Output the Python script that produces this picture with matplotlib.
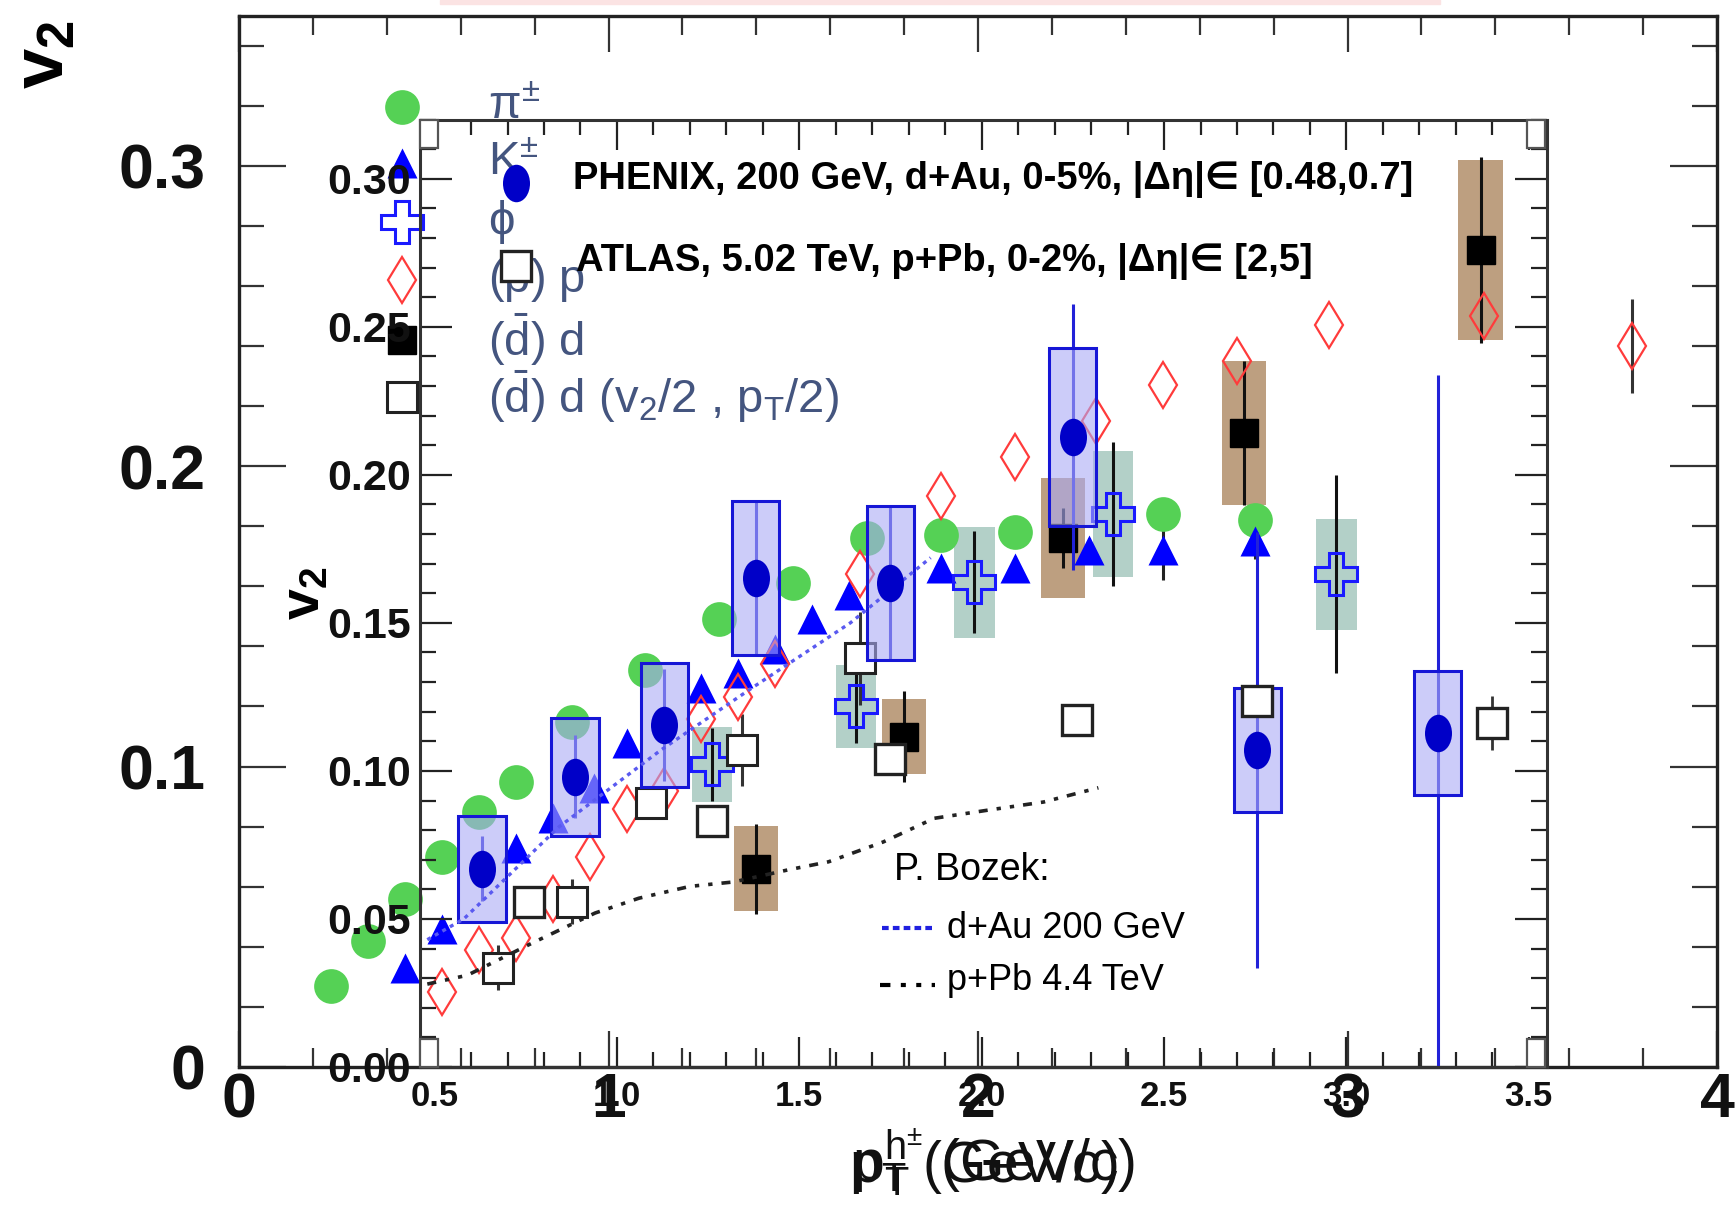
import numpy as np
import matplotlib
matplotlib.use("Agg")
import matplotlib.pyplot as plt
from matplotlib.patches import Rectangle
from matplotlib.path import Path
from matplotlib.transforms import Affine2D
from matplotlib.ticker import MultipleLocator

plt.rcParams['font.family'] = ['Liberation Sans', 'DejaVu Sans']
plt.rcParams['mathtext.fontset'] = 'custom'
plt.rcParams['mathtext.rm'] = 'Liberation Sans'
plt.rcParams['mathtext.it'] = 'Liberation Sans:italic'
plt.rcParams['mathtext.bf'] = 'Liberation Sans:bold'
NARROW = ['Liberation Sans', 'DejaVu Sans']

# ---- outer plot: identified hadrons ----
pi_pt = [0.25, 0.35, 0.45, 0.55, 0.65, 0.75, 0.90, 1.10, 1.30, 1.50, 1.70, 1.90, 2.10, 2.50, 2.75]
pi_v2 = [0.027, 0.042, 0.056, 0.070, 0.085, 0.095, 0.115, 0.132, 0.149, 0.161, 0.176, 0.177, 0.178, 0.184, 0.182]

k_pt = [0.45, 0.55, 0.75, 0.85, 0.96, 1.05, 1.25, 1.35, 1.45, 1.55, 1.65, 1.90, 2.10, 2.30, 2.50, 2.75]
k_v2 = [0.033, 0.046, 0.073, 0.083, 0.093, 0.108, 0.126, 0.131, 0.139, 0.149, 0.157, 0.166, 0.166, 0.172, 0.172, 0.175]
k_err = [0, 0, 0, 0, 0, 0, 0, 0, 0, 0, 0, 0, 0.004, 0.004, 0.010, 0.006]

phi_pt = [1.28, 1.67, 1.99, 2.365, 2.97]
phi_v2 = [0.1007, 0.120, 0.1613, 0.184, 0.164]
phi_stat = [0.012, 0.012, 0.017, 0.024, 0.033]
phi_sys = [0.0125, 0.0137, 0.0185, 0.021, 0.0185]

p_pt = [0.55, 0.65, 0.75, 0.85, 0.95, 1.05, 1.15, 1.25, 1.35, 1.45, 1.68, 1.90, 2.10, 2.32, 2.50, 2.70, 2.95, 3.37, 3.77]
p_v2 = [0.025, 0.039, 0.043, 0.056, 0.070, 0.086, 0.092, 0.116, 0.123, 0.134, 0.164, 0.190, 0.203, 0.215, 0.227, 0.235, 0.247, 0.250, 0.240]
p_err = [0] * 18 + [0.0155]

d_pt = [1.40, 1.80, 2.23, 2.72, 3.36]
d_v2 = [0.066, 0.110, 0.176, 0.211, 0.272]
d_stat = [0.015, 0.015, 0.010, 0.024, 0.031]
d_sys = [0.0142, 0.0125, 0.020, 0.024, 0.030]

dh_pt = [0.70, 0.90, 1.115, 1.36, 1.68]
dh_v2 = [0.033, 0.055, 0.088, 0.1055, 0.136]
dh_err = [0.0075, 0.0075, 0.005, 0.012, 0.0155]

# ---- inner plot: unidentified hadrons ----
ph_pt = [0.63, 0.885, 1.13, 1.38, 1.75, 2.25, 2.755, 3.25]
ph_v2 = [0.0669, 0.098, 0.1155, 0.1652, 0.1635, 0.2128, 0.1071, 0.1128]
ph_stat = [0.011, 0.014, 0.019, 0.026, 0.026, 0.045, 0.0735, 0.121]
ph_sys = [0.018, 0.020, 0.021, 0.026, 0.026, 0.030, 0.021, 0.021]

at_pt = [0.76, 1.26, 1.75, 2.26, 2.755, 3.40]
at_v2 = [0.0557, 0.0831, 0.104, 0.1172, 0.1236, 0.1162]
at_err = [0, 0, 0, 0, 0, 0.009]

bz_dau_pt = [0.48, 0.58, 0.84, 1.12, 1.37, 1.64, 1.86]
bz_dau_v2 = [0.043, 0.050, 0.081, 0.107, 0.128, 0.150, 0.172]
bz_ppb_pt = [0.48, 0.59, 0.77, 0.94, 1.06, 1.20, 1.32, 1.47, 1.58, 1.73, 1.87, 2.02, 2.17, 2.32]
bz_ppb_v2 = [0.028, 0.031, 0.042, 0.052, 0.057, 0.061, 0.0625, 0.0666, 0.0693, 0.076, 0.084, 0.0868, 0.0895, 0.0943]

GREEN = '#55d155'
TAN = '#bd9f80'
TEAL = '#b3d0c8'
ell = Path.unit_circle().transformed(Affine2D().scale(0.72, 1.0))

W, H = 1736, 1224
def fx(px):
    return px / W
def fy(py):
    return 1 - py / H

fig = plt.figure(figsize=(17.36, 12.24), dpi=100)
fig.patches.append(Rectangle((fx(440), fy(4)), fx(1000), 4 / H, transform=fig.transFigure,
                             color='#fbe3e3', zorder=0))

ax = fig.add_axes([fx(239), fy(1067), fx(1717 - 239), (1067 - 15.5) / H])
axi = fig.add_axes([fx(420), fy(1067), fx(1547 - 420), (1067 - 119.5) / H])
axi.set_facecolor('none')

# ---------------- outer axes ----------------
ax.set_xlim(0, 4)
ax.set_ylim(0, 0.35)
ax.xaxis.set_minor_locator(MultipleLocator(0.2))
ax.yaxis.set_minor_locator(MultipleLocator(0.02))
ax.set_xticks([0, 1, 2, 3, 4], labels=['0', '1', '2', '3', '4'], fontsize=45, fontweight='bold')
ax.set_yticks([0, 0.1, 0.2, 0.3], labels=['0', '0.1', '0.2', '0.3'], fontsize=45, fontweight='bold')
ax.tick_params(which='both', direction='in', top=True, right=True, width=1.6, color='#333333',
               labelcolor='#111111')
ax.tick_params(axis='x', which='major', length=26, pad=3)
ax.tick_params(axis='x', which='minor', length=14)
ax.tick_params(axis='y', which='major', length=34, pad=24)
ax.tick_params(axis='y', which='minor', length=18)
for s in ax.spines.values():
    s.set_linewidth(2.4)
    s.set_color('#222222')

for x, y, h in zip(phi_pt, phi_v2, phi_sys):
    ax.add_patch(Rectangle((x - 0.055, y - h), 0.11, 2 * h, facecolor=TEAL, edgecolor='none', zorder=1))
for x, y, h in zip(d_pt, d_v2, d_sys):
    ax.add_patch(Rectangle((x - 0.06, y - h), 0.12, 2 * h, facecolor=TAN, edgecolor='none', zorder=1))

ax.errorbar(phi_pt, phi_v2, yerr=phi_stat, fmt='none', ecolor='#111111', elinewidth=2.2, capsize=0, zorder=2)
ax.errorbar(d_pt, d_v2, yerr=d_stat, fmt='none', ecolor='#111111', elinewidth=2.2, capsize=0, zorder=2)
ax.errorbar(p_pt, p_v2, yerr=p_err, fmt='none', ecolor='#333333', elinewidth=2.2, capsize=0, zorder=2)
ax.errorbar(k_pt, k_v2, yerr=k_err, fmt='none', ecolor='#222222', elinewidth=2.2, capsize=0, zorder=2)
ax.errorbar(dh_pt, dh_v2, yerr=dh_err, fmt='none', ecolor='#333333', elinewidth=2.2, capsize=0, zorder=2)

ax.plot(pi_pt, pi_v2, 'o', ms=25, color=GREEN, mec='none', zorder=3)
ax.plot(k_pt, k_v2, '^', ms=21.5, color='#0000ff', mec='none', zorder=3)
ax.plot(p_pt, p_v2, 'd', ms=23, mfc='none', mec='#ff3b3b', mew=1.6, zorder=3)
ax.plot(phi_pt, phi_v2, 'P', ms=30, mfc='none', mec='#1a1aff', mew=2.2, zorder=3)
ax.plot(d_pt, d_v2, 's', ms=20, color='black', zorder=3)
ax.plot(dh_pt, dh_v2, 's', ms=22, mfc='white', mec='#222222', mew=2.2, zorder=3)

# outer legend
lx = fx(402 - 239) / fx(1717 - 239)
oleg = [
    (107, dict(marker='o', ms=25, color=GREEN, mec='none'), 'π$^{\\pm}$'),
    (163, dict(marker='^', ms=21.5, color='#0000ff', mec='none'), 'K$^{\\pm}$'),
    (222, dict(marker='P', ms=30, mfc='white', mec='#1a1aff', mew=2.2), 'ϕ'),
    (280, dict(marker='d', ms=23, mfc='none', mec='#ff3b3b', mew=1.6), r'($\bar{\mathrm{p}}$) p'),
    (340, dict(marker='s', ms=20, color='black'), r'($\bar{\mathrm{d}}$) d'),
    (397, dict(marker='s', ms=22, mfc='white', mec='#222222', mew=2.2),
     r'($\bar{\mathrm{d}}$) d (v$_2$/2 , p$_\mathrm{T}$/2)'),
]
for py, style, lab in oleg:
    yy = (1067 - py) / 1051.5
    ax.plot([lx], [yy], transform=ax.transAxes, clip_on=False, zorder=3, **style)
    ax.text(fx(488 - 239) / fx(1478), yy, lab, transform=ax.transAxes, fontsize=34,
            color='#44557f', va='center', ha='left', zorder=3)

# ---------------- inner axes ----------------
axi.set_xlim(0.46, 3.55)
axi.set_ylim(0, 0.32)
axi.xaxis.set_minor_locator(MultipleLocator(0.1))
axi.yaxis.set_minor_locator(MultipleLocator(0.01))
xt = [0.5, 1.0, 1.5, 2.0, 2.5, 3.0, 3.5]
yt = [0.0, 0.05, 0.10, 0.15, 0.20, 0.25, 0.30]
axi.set_xticks(xt, labels=['%.1f' % v for v in xt], fontsize=25, fontweight='bold', family=NARROW)
axi.set_yticks(yt, labels=['%.2f' % v for v in yt], fontsize=31, fontweight='bold', family=NARROW)
axi.tick_params(which='both', direction='in', top=True, right=True, width=1.6, color='#222222',
                labelcolor='#111111')
axi.tick_params(axis='x', which='major', length=21.5, pad=9)
axi.tick_params(axis='x', which='minor', length=11)
axi.tick_params(axis='y', which='major', length=23, pad=6.5)
axi.tick_params(axis='y', which='minor', length=11.5)
for s in axi.spines.values():
    s.set_linewidth(2.2)
    s.set_color('#333333')

axi.errorbar(ph_pt, ph_v2, yerr=ph_stat, fmt='none', ecolor='#2222d8', elinewidth=2.2, capsize=0, zorder=1)
for x, y, h in zip(ph_pt, ph_v2, ph_sys):
    axi.add_patch(Rectangle((x - 0.0645, y - h), 0.129, 2 * h, facecolor=(0.667, 0.667, 0.96, 0.6),
                            edgecolor='#1616d6', lw=2.2, zorder=2))
axi.plot(bz_dau_pt, bz_dau_v2, color='#5a5af0', lw=2.4, ls=(0, (1.2, 1.4)), zorder=3)
axi.plot(bz_ppb_pt, bz_ppb_v2, color='#222222', lw=2.6, ls=(0, (2.5, 2.5, 1.2, 2.5, 1.2, 2.5)), zorder=3)
axi.plot(ph_pt, ph_v2, marker=ell, ls='none', ms=27, color='#0000c8', mec='none', zorder=4)
axi.errorbar(at_pt, at_v2, yerr=at_err, fmt='none', ecolor='#333333', elinewidth=2, capsize=0, zorder=4)
axi.plot(at_pt, at_v2, 's', ms=22, mfc='white', mec='#222222', mew=2.4, zorder=5)

# small frame boxes at the inner corners
for cx, cy in [(0, 0.970), (0, 0.0), (0.982, 0.970), (0.982, 0.0)]:
    axi.add_patch(Rectangle((cx, cy), 0.016, 0.030, transform=axi.transAxes, facecolor='white',
                            edgecolor='#555555', lw=1.6, zorder=6, clip_on=False))

# inner legend
def ix(px):
    return (px - 420) / 1127.0
def iy(py):
    return (1067 - py) / 947.5

axi.plot([ix(516)], [iy(183)], marker=ell, ms=27, color='#0000c8', mec='none',
         transform=axi.transAxes, clip_on=False, zorder=6)
axi.plot([ix(516)], [iy(266)], 's', ms=22, mfc='white', mec='#222222', mew=2.4,
         transform=axi.transAxes, clip_on=False, zorder=6)
axi.text(ix(573), iy(180), 'PHENIX, 200 GeV, d+Au, 0-5%, |Δη|∈ [0.48,0.7]', transform=axi.transAxes,
         fontsize=27.5, fontweight='bold', family=NARROW, va='center', ha='left', zorder=6)
axi.text(ix(576), iy(262), 'ATLAS, 5.02 TeV, p+Pb, 0-2%, |Δη|∈ [2,5]', transform=axi.transAxes,
         fontsize=27.5, fontweight='bold', family=NARROW, va='center', ha='left', zorder=6)

axi.text(ix(894), iy(870), 'P. Bozek:', transform=axi.transAxes, fontsize=27, family=NARROW,
         va='center', ha='left')
axi.plot([ix(882), ix(935)], [iy(928)] * 2, color='#2020e0', lw=3, ls=(0, (1.6, 1.0)),
         transform=axi.transAxes)
axi.text(ix(947), iy(928), 'd+Au 200 GeV', transform=axi.transAxes, fontsize=26, family=NARROW,
         va='center', ha='left')
axi.plot([ix(880), ix(935)], [iy(985)] * 2, color='black', lw=3, ls=(0, (2.5, 2.5, 1.2, 2.5, 1.2, 2.5)),
         transform=axi.transAxes)
axi.text(ix(947), iy(980), 'p+Pb 4.4 TeV', transform=axi.transAxes, fontsize=26, family=NARROW,
         va='center', ha='left')

# axis titles
fig.text(fx(45), fy(55), r'$\mathbf{v}_{\mathbf{2}}$', rotation=90, fontsize=52, ha='center', va='center')
fig.text(fx(305), fy(593), r'$\mathbf{v}_{\mathbf{2}}$', rotation=90, fontsize=40, ha='center', va='center')
fig.text(fx(1135), fy(1182), r'$\mathrm{p}_\mathrm{T}^{\mathrm{h}^{\pm}}$ (GeV/c)', fontsize=41,
         ha='right', va='baseline', color='#111111')
fig.text(fx(1118), fy(1182), r'$\mathrm{p}_\mathrm{T}$ (GeV/c)', fontsize=41, family=NARROW,
         ha='right', va='baseline', color='#111111')

fig.savefig('out.png', dpi=100)
